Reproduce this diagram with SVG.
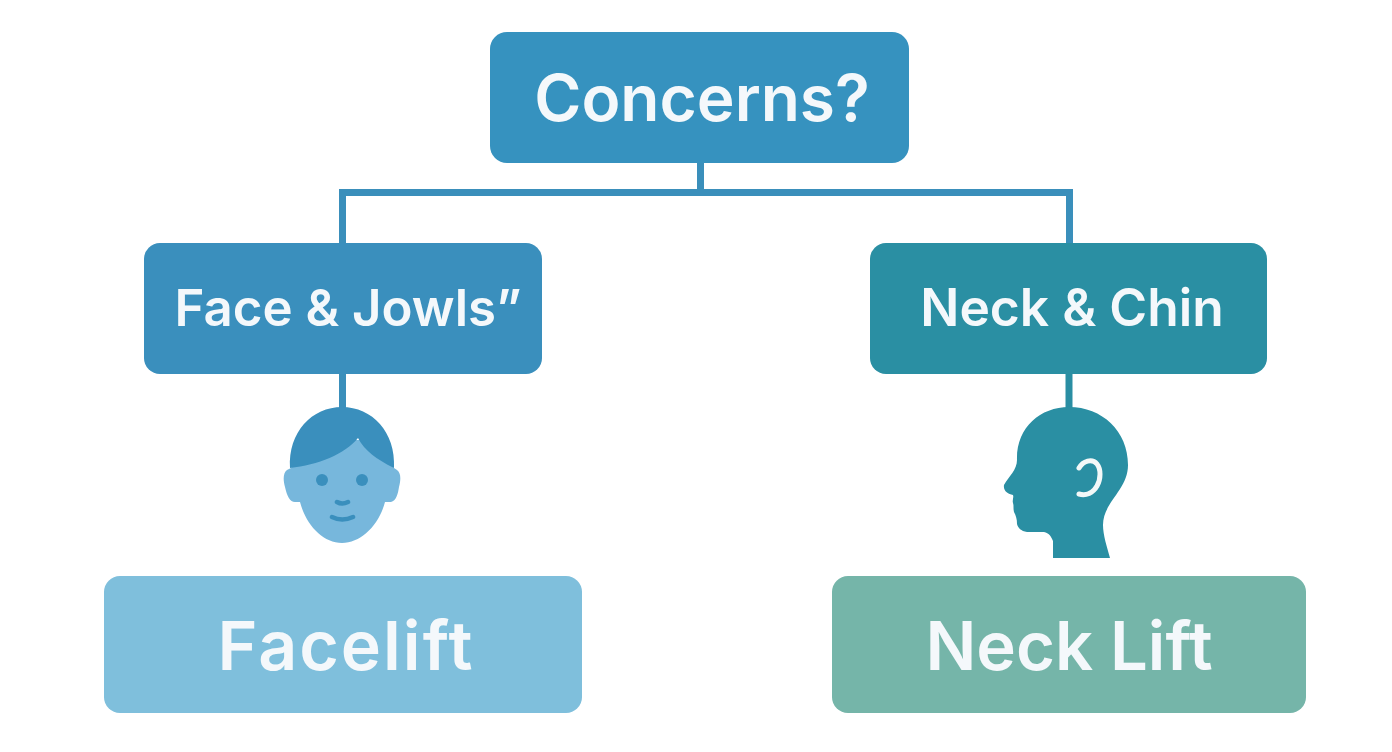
<svg xmlns="http://www.w3.org/2000/svg" width="1392" height="752" viewBox="0 0 1392 752">
<style>
.t{font-family:"Inter","Open Sans","Liberation Sans",sans-serif;text-anchor:middle;fill:#f4f8fb;font-weight:600}
.c{fill:none;stroke-width:7}
</style>
<rect width="1392" height="752" fill="#fff"/>
<g id="connectors">
<path class="c" stroke="#3a8fbb" d="M700.500 162V192.500M342.500 243V192.500H1069.500V243"/>
<path class="c" stroke="#3a8fbb" d="M342.500 373V408"/>
<path class="c" stroke="#2a8ea3" d="M1069 373V408"/>
</g>
<g id="concerns"><rect fill="#3692bf" x="490" y="32" width="419" height="131" rx="17"/><text class="t" x="702" y="121" font-size="64">Concerns?</text></g>
<g id="face-jowls"><rect x="144" y="243" width="398" height="131" rx="16" fill="#3a8fbd"/><text class="t" x="348" y="326" font-size="51">Face &amp; Jowls”</text></g>
<g id="neck-chin"><rect x="870" y="243" width="397" height="131" rx="16" fill="#2a8fa3"/><text class="t" x="1072" y="326" font-size="51.500">Neck &amp; Chin</text></g>
<g id="face-icon">
<path d="M291 468L287 470C283 473 283 480 285 487C287 496 290 502 295 502L300 502C306 525 323 543 342 543C361 543 379 525 385 502L391 502C396 501 398 494 399 487C401 479 401 473 397 470L394 468L370 440H315Z" fill="#77b7dc"/>
<path d="M290 468C288 432 312 407 342 407C372 407 396 432 394 468C376 459 365 451 358 438C345 454 318 465 290 468Z" fill="#3a8fbd"/>
<circle cx="322" cy="480" r="6" fill="#3a8fbd"/><circle cx="362" cy="480" r="6" fill="#3a8fbd"/>
<path d="M337 502Q342 505 348 502M332 517Q342 522 353 517" fill="none" stroke="#3a8fbd" stroke-width="4.500" stroke-linecap="round"/>
</g>
<g id="profile-icon">
<path d="M1053 558V541C1051 536 1049 533 1044 532L1027 532C1021 531 1018 528 1017 524C1017 519 1016 516 1014 512C1013 508 1014 506 1013 503C1012 500 1014 498 1013 495C1008 494 1003 491 1004 485C1009 476 1017 470 1017 460C1016 428 1040 407 1069 407C1102 407 1128 431 1128 465C1128 490 1103 502 1103 525C1103 535 1107 547 1110 558Z" fill="#2a8fa3"/>
<path d="M1079 468C1083 461 1092 458 1097 464C1101 469 1101 479 1097 486C1093 493 1086 496 1079 494" fill="none" stroke="#f3f8f8" stroke-width="5" stroke-linecap="round"/>
</g>
<g id="facelift"><rect x="104" y="576" width="478" height="137" rx="16" fill="#7fbfdc"/><text class="t" x="346" y="670" font-size="68" letter-spacing="2">Facelift</text></g>
<g id="neck-lift"><rect x="832" y="576" width="474" height="137" rx="16" fill="#75b5a9"/><text class="t" x="1069" y="670" font-size="67">Neck Lift</text></g>
</svg>
